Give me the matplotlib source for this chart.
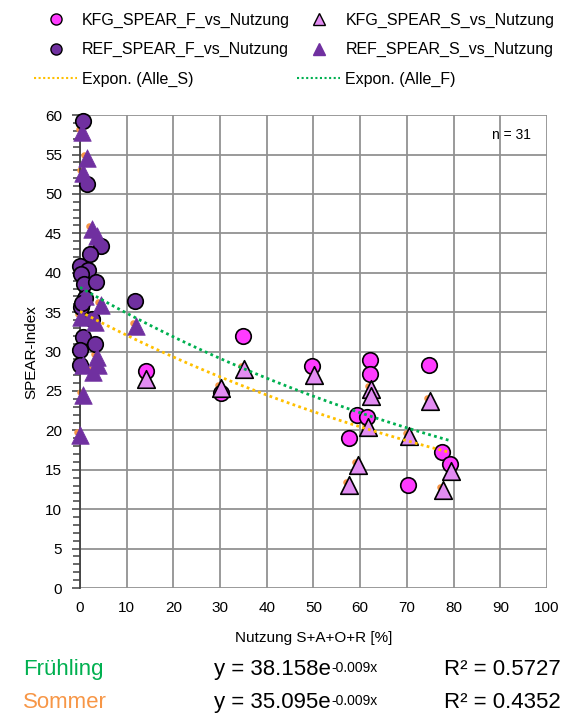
import numpy as np
import matplotlib
matplotlib.use("Agg")
import matplotlib.pyplot as plt
import matplotlib.transforms as mtrans
from matplotlib.lines import Line2D

plt.rcParams['font.family'] = ['Liberation Sans', 'DejaVu Sans']

#- values
kfg_f_x = [14.1, 30.1, 34.9, 49.7, 57.6, 59.3, 61.4, 62.1, 62.1, 70.2, 74.7, 77.5, 79.3]
kfg_f_y = [27.5, 24.8, 32.0, 28.2, 19.0, 21.9, 21.7, 28.9, 27.1, 13.1, 28.3, 17.2, 15.7]

kfg_s_x = [14.2, 30.2, 35.1, 50.1, 57.6, 59.5, 61.6, 62.3, 62.3, 70.4, 75.0, 77.7, 79.4]
kfg_s_y = [26.5, 25.4, 27.8, 27.0, 13.1, 15.6, 20.4, 25.2, 24.3, 19.3, 23.7, 12.4, 14.8]

ref_f_x = [0.6, 1.6, 4.4, 2.2, 0.0, 1.8, 0.2, 0.9, 3.4, 1.1, 0.3, 11.8, 2.5, 0.6, 3.2, 0.0, 0.1, 0.4]
ref_f_y = [59.3, 51.3, 43.4, 42.4, 40.8, 40.4, 39.9, 38.6, 38.8, 36.8, 35.6, 36.4, 34.1, 31.9, 31.0, 30.2, 28.3, 36.2]

ref_s_x = [0.4, 1.4, 0.7, 2.5, 3.6, 1.1, 4.6, 0.2, 3.2, 12.0, 3.6, 3.9, 2.8, 0.7, 0.7, 0.1]
ref_s_y = [57.9, 54.5, 52.6, 45.6, 44.6, 37.0, 35.9, 34.4, 33.8, 33.2, 29.3, 28.3, 27.4, 28.3, 24.5, 19.4]

#- exponential trends (from the equations shown)
fit_f = (38.158, -0.009, 0.5727)
fit_s = (35.095, -0.009, 0.4352)
fit_xmax = 79.3

xticks = list(range(0, 101, 10))
yticks = list(range(0, 61, 5))

c_kfg_f = '#FF3BFF'
c_kfg_s = '#E28CF2'
c_ref = '#7030A0'
c_green = '#00B050'
c_orange = '#FFC000'
c_sommer = '#F79646'

fig = plt.figure(figsize=(5.77, 7.15), dpi=100)
ax = fig.add_axes([0.1386, 0.1776, 0.8094, 0.6614])

# small orange points of the summer set, peeking out behind triangles
off = mtrans.ScaledTranslation(-3/100, 3/100, fig.dpi_scale_trans)
ax.scatter(kfg_s_x + ref_s_x, kfg_s_y + ref_s_y, s=22, color=c_sommer,
           transform=ax.transData + off, zorder=2, linewidths=0, clip_on=False)

ax.scatter(kfg_f_x, kfg_f_y, s=125, color=c_kfg_f, edgecolor='black', linewidths=1.2, zorder=3, clip_on=False)
ax.scatter(ref_f_x, ref_f_y, s=125, color=c_ref, edgecolor='black', linewidths=1.2, zorder=3, clip_on=False)
ax.scatter(kfg_s_x, kfg_s_y, s=160, marker='^', color=c_kfg_s, edgecolor='black', linewidths=1.2, zorder=4, clip_on=False)
ax.scatter(ref_s_x, ref_s_y, s=160, marker='^', color=c_ref, edgecolor=c_ref, linewidths=0.5, zorder=4, clip_on=False)

xt = np.linspace(0, fit_xmax, 100)
ax.plot(xt, fit_s[0]*np.exp(fit_s[1]*xt), color=c_orange, linestyle=(0, (1, 1.2)), lw=2, zorder=5)
ax.plot(xt, fit_f[0]*np.exp(fit_f[1]*xt), color=c_green, linestyle=(0, (1, 1.2)), lw=2, zorder=5)

ax.set_xlim(0, 100)
ax.set_ylim(0, 60)
ax.set_xticks(xticks)
ax.set_yticks(yticks)
ax.set_yticks(range(0, 61), minor=True)
ax.grid(True, color='#929292', lw=1.3)
ax.set_axisbelow(True)
for s in ['top', 'right', 'bottom']:
    ax.spines[s].set_visible(False)
ax.spines['left'].set_color('#404040')
ax.spines['left'].set_linewidth(1.3)
ax.tick_params(axis='y', which='both', direction='out', color='#404040', width=1.1, labelsize=11)
ax.tick_params(axis='y', which='major', length=6, pad=7)
ax.tick_params(axis='y', which='minor', length=5)
ax.tick_params(axis='x', length=0, labelsize=11, pad=9)
ax.set_ylabel('SPEAR-Index', fontsize=11, labelpad=5)
ax.set_xlabel('Nutzung S+A+O+R [%]', fontsize=11, labelpad=12)

ax.text(0.966, 0.958, 'n = 31', transform=ax.transAxes, ha='right', va='center', fontsize=10)

handles = [
    Line2D([], [], ls='', marker='o', ms=8, mfc=c_kfg_f, mec='black'),
    Line2D([], [], ls='', marker='o', ms=8, mfc=c_ref, mec='black'),
    Line2D([], [], color=c_orange, ls=(0, (1, 1.2)), lw=1.5),
    Line2D([], [], ls='', marker='^', ms=8, mfc=c_kfg_s, mec='black'),
    Line2D([], [], ls='', marker='^', ms=8, mfc=c_ref, mec=c_ref),
    Line2D([], [], color=c_green, ls=(0, (1, 1.2)), lw=1.5),
]
labels = ['KFG_SPEAR_F_vs_Nutzung', 'REF_SPEAR_F_vs_Nutzung', 'Expon. (Alle_S)',
          'KFG_SPEAR_S_vs_Nutzung', 'REF_SPEAR_S_vs_Nutzung', 'Expon. (Alle_F)']
fig.legend(handles, labels, ncol=2, loc='upper center', bbox_to_anchor=(0.51, 1.0),
           frameon=False, fontsize=11.5, handlelength=2.7, labelspacing=0.9,
           columnspacing=0.45, handletextpad=0.3, borderpad=0.3)

def equation(ypos, a, b):
    t = fig.text(0.371, ypos, 'y = %.3fe' % a, fontsize=16, va='center')
    sup = '%.3fx' % b
    ax.annotate(sup, xy=(1, 1), xycoords=t, xytext=(0.5, -1.5), textcoords='offset points',
                ha='left', va='top', fontsize=10, annotation_clip=False)

fig.text(0.040, 0.064, 'Frühling', color=c_green, fontsize=16, va='center')
fig.text(0.040, 0.018, 'Sommer', color=c_sommer, fontsize=16, va='center')
equation(0.064, fit_f[0], fit_f[1])
equation(0.018, fit_s[0], fit_s[1])
fig.text(0.972, 0.064, 'R² = %.4f' % fit_f[2], fontsize=16, va='center', ha='right')
fig.text(0.972, 0.018, 'R² = %.4f' % fit_s[2], fontsize=16, va='center', ha='right')

plt.savefig('out.png', dpi=100)
